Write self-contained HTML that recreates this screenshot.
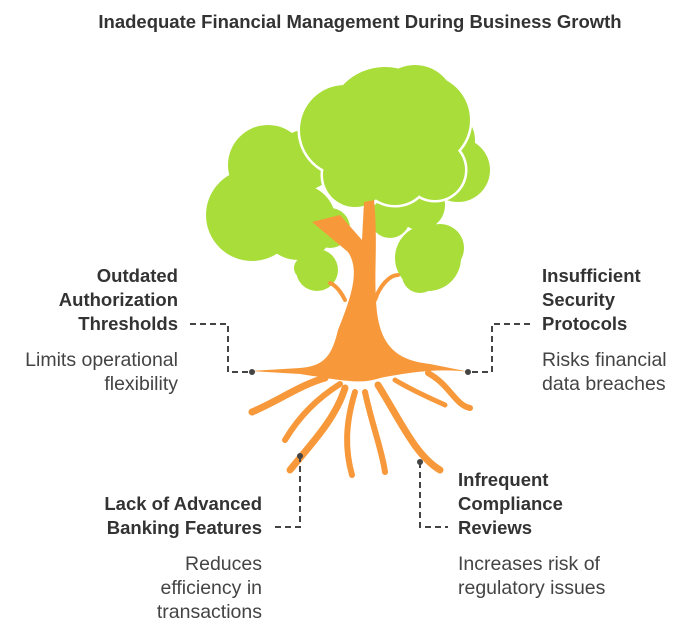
<!DOCTYPE html>
<html><head><style>
body{margin:0;background:#fff;width:696px;height:636px;overflow:hidden}
svg{display:block}
text{font-family:"Liberation Sans",Arial,sans-serif;fill:#333}
.h{font-weight:bold;font-size:18.5px}
.d{font-size:19.5px;fill:#444}
</style></head><body>
<svg width="696" height="636" viewBox="0 0 696 636">
<text x="360" y="28" text-anchor="middle" class="h">Inadequate Financial Management During Business Growth</text>
<g fill="#a9dd3a">
<circle cx="252" cy="215" r="46"/><circle cx="268" cy="165" r="40"/><circle cx="305" cy="160" r="30"/>
<circle cx="298" cy="222" r="38"/><circle cx="330" cy="228" r="20"/>
<circle cx="458" cy="170" r="32"/><circle cx="445" cy="140" r="30"/><circle cx="420" cy="205" r="25"/><circle cx="390" cy="218" r="20"/>
<circle cx="317" cy="270" r="21"/><circle cx="305" cy="268" r="11"/>
<circle cx="428" cy="258" r="33"/><circle cx="440" cy="248" r="24"/><circle cx="420" cy="275" r="18"/>
</g>
<g fill="#a9dd3a" stroke="#fff" stroke-width="5">
<circle cx="385" cy="125" r="58"/><circle cx="345" cy="130" r="45"/><circle cx="425" cy="120" r="45"/>
<circle cx="355" cy="175" r="32"/><circle cx="395" cy="170" r="35"/><circle cx="435" cy="170" r="30"/><circle cx="415" cy="105" r="40"/>
</g>
<g fill="#a9dd3a">
<circle cx="385" cy="125" r="58"/><circle cx="345" cy="130" r="45"/><circle cx="425" cy="120" r="45"/>
<circle cx="355" cy="175" r="32"/><circle cx="395" cy="170" r="35"/><circle cx="435" cy="170" r="30"/><circle cx="415" cy="105" r="40"/>
</g>
<path fill="#f7993b" d="M312,222 L348,252 C360,270 352,295 338,330 C332,355 325,366 300,368 L250,371 L300,374 C340,380 360,385 380,378 C410,372 440,368 470,372 L430,364 C395,360 378,345 376,300 C374,270 378,240 374,200 L364,202 L362,240 L340,215 Z"/>
<g fill="none" stroke="#f7993b" stroke-linecap="round">
<path stroke-width="7" d="M325,378 C300,385 280,400 252,412"/>
<path stroke-width="6" d="M340,384 C318,398 300,415 285,440"/>
<path stroke-width="7" d="M345,388 C335,420 310,445 290,470"/>
<path stroke-width="6" d="M355,392 C345,425 345,450 352,475"/>
<path stroke-width="6" d="M365,392 C372,425 382,450 385,472"/>
<path stroke-width="7" d="M378,385 C400,420 415,455 440,470"/>
<path stroke-width="5" d="M395,380 C415,392 430,398 445,405"/>
<path stroke-width="6" d="M428,373 C450,385 455,405 470,408"/>
<path stroke-width="4" d="M345,300 C340,290 335,285 330,283"/>
<path stroke-width="4" d="M375,300 C380,285 390,275 398,275"/>
</g>
<g fill="none" stroke="#444" stroke-width="2" stroke-dasharray="6,4">
<path d="M190,324 H228 V372 H252"/>
<path d="M530,324 H492 V372 H468"/>
<path d="M300,456 V527 H272"/>
<path d="M420,462 V527 H448"/>
</g>
<g fill="#444"><circle cx="252" cy="372" r="3"/><circle cx="468" cy="372" r="3"/><circle cx="300" cy="456" r="3"/><circle cx="420" cy="462" r="3"/></g>
<g text-anchor="end">
<text x="178" y="282" class="h">Outdated</text>
<text x="178" y="306" class="h">Authorization</text>
<text x="178" y="330" class="h">Thresholds</text>
<text x="178" y="366" class="d">Limits operational</text>
<text x="178" y="390" class="d">flexibility</text>
<text x="262" y="510" class="h">Lack of Advanced</text>
<text x="262" y="534" class="h">Banking Features</text>
<text x="262" y="570" class="d">Reduces</text>
<text x="262" y="594" class="d">efficiency in</text>
<text x="262" y="618" class="d">transactions</text>
</g>
<text x="542" y="282" class="h">Insufficient</text>
<text x="542" y="306" class="h">Security</text>
<text x="542" y="330" class="h">Protocols</text>
<text x="542" y="366" class="d">Risks financial</text>
<text x="542" y="390" class="d">data breaches</text>
<text x="458" y="486" class="h">Infrequent</text>
<text x="458" y="510" class="h">Compliance</text>
<text x="458" y="534" class="h">Reviews</text>
<text x="458" y="570" class="d">Increases risk of</text>
<text x="458" y="594" class="d">regulatory issues</text>
</svg>
</body></html>
